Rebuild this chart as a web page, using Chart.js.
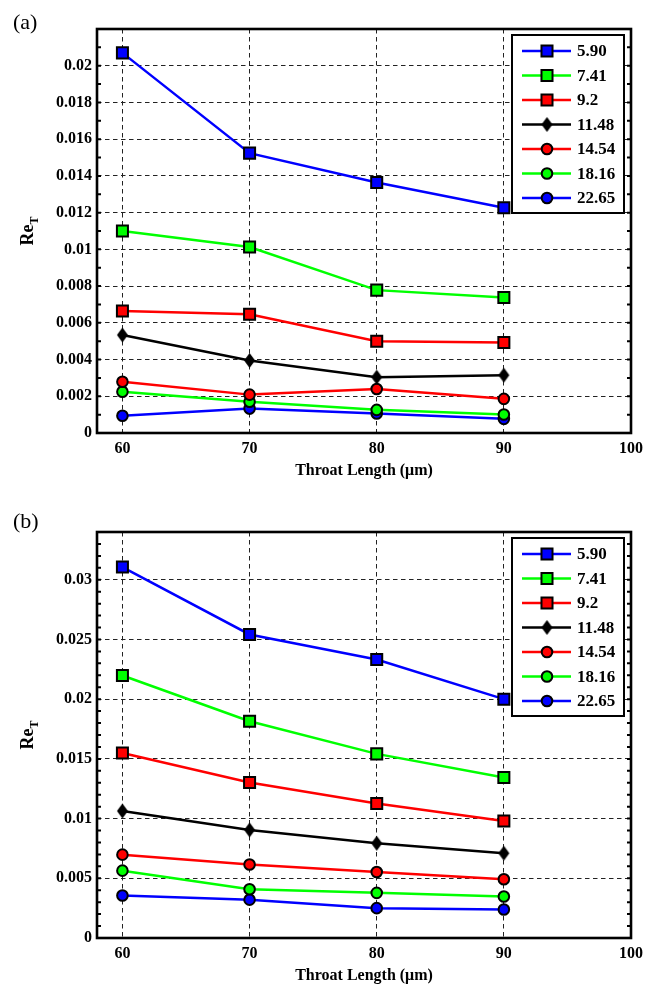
<!DOCTYPE html>
<html>
<head>
<meta charset="utf-8">
<script src="https://cdn.jsdelivr.net/npm/chart.js@4.4.1/dist/chart.umd.min.js"></script>
<style>
  body { margin: 0; background: #fff; }
  #page { position: relative; width: 657px; height: 985px; }
  .panel { position: absolute; left: 0; }
  .tag { position: absolute; left: 13px; font: 22px 'Liberation Serif', 'Times New Roman', serif; line-height: 22px; }
</style>
</head>
<body>
<div id="page">
  <canvas id="chartA" class="panel" width="657" height="480" style="top:0"></canvas>
  <canvas id="chartB" class="panel" width="657" height="485" style="top:500px"></canvas>
  <div class="tag" style="top:11px">(a)</div>
  <div class="tag" style="top:510px">(b)</div>
</div>
<script>
// throat length on x, one line per value in the legend
const throatLength = [60, 70, 80, 90];
const seriesLabels = ["5.90", "7.41", "9.2", "11.48", "14.54", "18.16", "22.65"];

// panel (a)
const reA_590  = [0.0207, 0.01524, 0.01364, 0.01227];
const reA_741  = [0.0110, 0.01013, 0.00778, 0.00738];
const reA_92   = [0.00664, 0.00647, 0.00500, 0.00493];
const reA_1148 = [0.00534, 0.00395, 0.00304, 0.00315];
const reA_1454 = [0.00279, 0.00209, 0.00240, 0.00186];
const reA_1816 = [0.00225, 0.00170, 0.00126, 0.00101];
const reA_2265 = [0.00094, 0.00133, 0.00106, 0.00077];

// panel (b)
const reB_590  = [0.03106, 0.02542, 0.02332, 0.02000];
const reB_741  = [0.02198, 0.01815, 0.01542, 0.01344];
const reB_92   = [0.01550, 0.01302, 0.01126, 0.00980];
const reB_1148 = [0.01064, 0.00905, 0.00793, 0.00710];
const reB_1454 = [0.00698, 0.00615, 0.00553, 0.00492];
const reB_1816 = [0.00564, 0.00408, 0.00378, 0.00347];
const reB_2265 = [0.00356, 0.00321, 0.00250, 0.00239];

const xTicks = [60, 70, 80, 90, 100];
const yTicksA = [0, 0.002, 0.004, 0.006, 0.008, 0.01, 0.012, 0.014, 0.016, 0.018, 0.02];
const yTicksB = [0, 0.005, 0.01, 0.015, 0.02, 0.025, 0.03];

const SERIF = "'Liberation Serif', 'Times New Roman', serif";

// tall black diamond used for the 11.48 series
function makeDiamond(w, h) {
  const c = document.createElement("canvas");
  c.width = w + 2; c.height = h + 2;
  const g = c.getContext("2d");
  const cx = c.width / 2, cy = c.height / 2;
  g.fillStyle = "#000";
  g.beginPath();
  g.moveTo(cx, cy - h / 2);
  g.lineTo(cx + w / 2, cy);
  g.lineTo(cx, cy + h / 2);
  g.lineTo(cx - w / 2, cy);
  g.closePath();
  g.fill();
  return c;
}
const diamond = makeDiamond(11, 15);

const styles = [
  { color: "#0000ff", marker: "rect",   radius: 7.8 },
  { color: "#00ff00", marker: "rect",   radius: 7.8 },
  { color: "#ff0000", marker: "rect",   radius: 7.8 },
  { color: "#000000", marker: diamond,  radius: 7 },
  { color: "#ff0000", marker: "circle", radius: 5.3 },
  { color: "#00ff00", marker: "circle", radius: 5.3 },
  { color: "#0000ff", marker: "circle", radius: 5.3 }
];

function buildDatasets(seriesValues) {
  return seriesValues.map((vals, i) => ({
    label: seriesLabels[i],
    data: throatLength.map((x, j) => ({ x: x, y: vals[j] })),
    borderColor: styles[i].color,
    borderWidth: 2.5,
    pointStyle: styles[i].marker,
    pointRadius: styles[i].radius,
    pointHoverRadius: styles[i].radius,
    pointBackgroundColor: styles[i].color,
    pointBorderColor: "#000",
    pointBorderWidth: 2,
    tension: 0
  }));
}

function drawMarker(ctx, st, x, y) {
  ctx.save();
  if (st.marker instanceof HTMLCanvasElement) {
    ctx.drawImage(st.marker, x - st.marker.width / 2, y - st.marker.height / 2);
  } else {
    ctx.fillStyle = st.color;
    ctx.strokeStyle = "#000";
    ctx.lineWidth = 2;
    ctx.beginPath();
    if (st.marker === "rect") {
      const s = st.radius * Math.SQRT1_2;
      ctx.rect(x - s, y - s, 2 * s, 2 * s);
    } else {
      ctx.arc(x, y, st.radius, 0, Math.PI * 2);
    }
    ctx.fill();
    ctx.stroke();
  }
  ctx.restore();
}

// frame, inner minor ticks, legend box and the Re_T title
const decorations = {
  id: "decorations",
  afterDraw(chart, args, opts) {
    const { ctx, chartArea: a } = chart;
    const y = chart.scales.y;

    ctx.save();
    ctx.strokeStyle = "#000";
    ctx.lineWidth = 2;
    const n = Math.round(y.max / opts.minorStep);
    for (let i = 1; i < n; i++) {
      const py = y.getPixelForValue(i * opts.minorStep);
      ctx.beginPath();
      ctx.moveTo(a.left, py); ctx.lineTo(a.left + 4, py);
      ctx.moveTo(a.right, py); ctx.lineTo(a.right - 4, py);
      ctx.stroke();
    }
    ctx.lineWidth = 2.6;
    ctx.strokeRect(a.left, a.top, a.right - a.left, a.bottom - a.top);

    // legend
    const bx = a.right - 119, by = a.top + 6, bw = 112, bh = 178;
    ctx.fillStyle = "#fff";
    ctx.fillRect(bx, by, bw, bh);
    ctx.lineWidth = 2;
    ctx.strokeRect(bx, by, bw, bh);
    ctx.font = "bold 17px " + SERIF;
    ctx.textBaseline = "middle";
    ctx.textAlign = "left";
    chart.data.datasets.forEach((ds, i) => {
      const ry = by + 16 + i * 24.5;
      ctx.strokeStyle = ds.borderColor;
      ctx.lineWidth = 2.5;
      ctx.beginPath();
      ctx.moveTo(bx + 10, ry); ctx.lineTo(bx + 59, ry);
      ctx.stroke();
      drawMarker(ctx, styles[i], bx + 35, ry);
      ctx.fillStyle = "#000";
      ctx.fillText(ds.label, bx + 65, ry + 1);
    });

    // rotated y title with subscript
    const cy = (a.top + a.bottom) / 2;
    ctx.translate(33, cy);
    ctx.rotate(-Math.PI / 2);
    ctx.fillStyle = "#000";
    ctx.textBaseline = "alphabetic";
    ctx.font = "bold 18px " + SERIF;
    const wRe = ctx.measureText("Re").width;
    ctx.font = "bold 12px " + SERIF;
    const wT = ctx.measureText("T").width;
    const x0 = -(wRe + wT) / 2;
    ctx.font = "bold 18px " + SERIF;
    ctx.fillText("Re", x0, 0);
    ctx.font = "bold 12px " + SERIF;
    ctx.fillText("T", x0 + wRe, 5);
    ctx.restore();
  }
};

function makeChart(id, seriesValues, yMax, yTicks, plotTop) {
  return new Chart(document.getElementById(id), {
    type: "line",
    data: { datasets: buildDatasets(seriesValues) },
    plugins: [decorations],
    options: {
      responsive: false,
      animation: false,
      layout: { padding: { top: plotTop, right: 26, left: 0, bottom: 0 } },
      plugins: {
        legend: { display: false },
        tooltip: { enabled: false },
        decorations: { minorStep: 0.001 }
      },
      scales: {
        x: {
          type: "linear",
          min: 58,
          max: 100,
          afterBuildTicks: s => { s.ticks = xTicks.map(v => ({ value: v })); },
          afterFit: s => { s.height = 47; },
          grid: { color: "#222", lineWidth: 1, drawTicks: false },
          border: { display: false, dash: [4.5, 3.5] },
          ticks: { color: "#000", padding: 6, font: { family: SERIF, size: 16, weight: "bold" } },
          title: {
            display: true,
            text: "Throat Length (\u03bcm)",
            color: "#000",
            padding: 0,
            font: { family: SERIF, size: 16, weight: "bold", lineHeight: 1.1 }
          }
        },
        y: {
          min: 0,
          max: yMax,
          afterBuildTicks: s => { s.ticks = yTicks.map(v => ({ value: v })); },
          afterFit: s => { s.width = 97; },
          grid: { color: "#222", lineWidth: 1, drawTicks: false },
          border: { display: false, dash: [4.5, 3.5] },
          ticks: {
            color: "#000",
            padding: 5,
            font: { family: SERIF, size: 16, weight: "bold" },
            callback: v => String(+v.toFixed(4))
          }
        }
      }
    }
  });
}

makeChart("chartA", [reA_590, reA_741, reA_92, reA_1148, reA_1454, reA_1816, reA_2265], 0.022, yTicksA, 29);
makeChart("chartB", [reB_590, reB_741, reB_92, reB_1148, reB_1454, reB_1816, reB_2265], 0.034, yTicksB, 32);
</script>
</body>
</html>
